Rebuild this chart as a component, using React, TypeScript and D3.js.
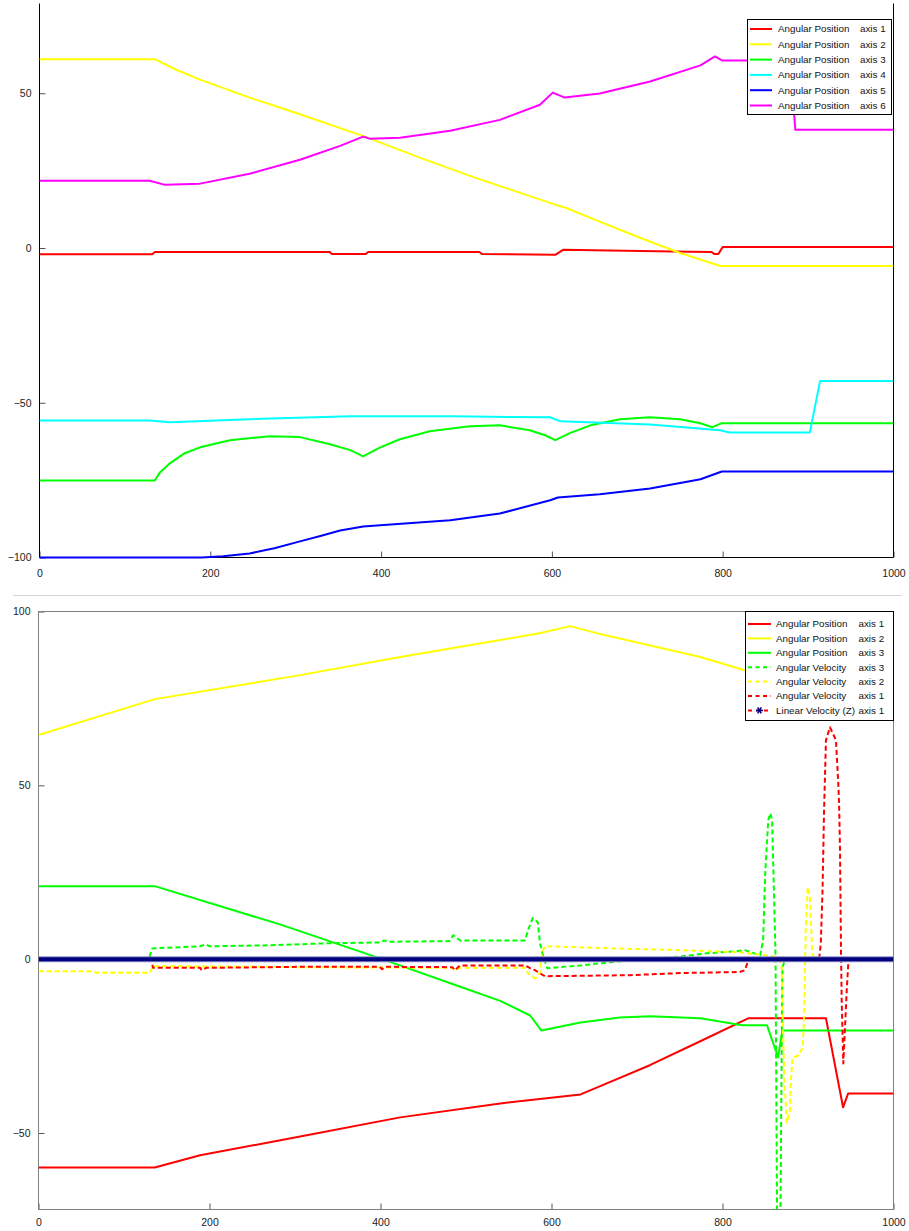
import { useEffect, useRef } from 'react';
import * as d3 from 'd3';

type Pt = [number, number];

const xTicks = [0, 200, 400, 600, 800, 1000];
const topYTicks = [-100, -50, 0, 50];
const botYTicks = [-50, 0, 50, 100];

// upper plot: angular position of axes 1-6
const topAxis1: Pt[] = [[0, -2], [132, -2], [135, -1.3], [340, -1.3], [342, -1.9], [382, -1.9], [385, -1.3], [515, -1.3], [518, -1.9], [604, -2.2], [613, -0.6], [760, -1.2], [787, -1.3], [790, -1.9], [795, -1.9], [800, 0.3], [1000, 0.3]];
const topAxis2: Pt[] = [[0, 61], [135, 61], [160, 57.6], [188, 54.4], [246, 48.6], [305, 43.2], [381, 36], [446, 29.1], [504, 23.3], [563, 17.8], [604, 14], [616, 13], [656, 8.5], [703, 3.3], [750, -1.6], [797, -5.8], [1000, -5.8]];
const topAxis3: Pt[] = [[0, -75.1], [135, -75.1], [141, -72.5], [153, -69.5], [170, -66.3], [188, -64.4], [223, -62.1], [270, -60.8], [305, -61.1], [340, -63.4], [364, -65.3], [379, -67.3], [399, -64.4], [422, -61.8], [457, -59.2], [504, -57.6], [539, -57.3], [574, -58.9], [592, -60.5], [604, -62.1], [621, -59.8], [645, -57.3], [680, -55.3], [715, -54.7], [750, -55.3], [774, -56.6], [788, -57.9], [799, -56.6], [1000, -56.6]];
const topAxis4: Pt[] = [[0, -55.7], [129, -55.7], [153, -56.3], [246, -55.3], [364, -54.4], [481, -54.4], [598, -54.7], [610, -56], [715, -57], [797, -58.9], [808, -59.6], [902, -59.6], [914, -43], [1000, -43]];
const topAxis5: Pt[] = [[0, -100], [190, -100], [215, -99.6], [246, -98.7], [275, -97], [305, -94.8], [330, -93], [352, -91.3], [379, -90], [399, -89.6], [481, -88], [539, -85.8], [598, -81.5], [607, -80.6], [656, -79.6], [715, -77.7], [774, -74.7], [799, -72.2], [1000, -72.2]];
const topAxis6: Pt[] = [[0, 21.7], [129, 21.7], [147, 20.4], [188, 20.8], [246, 24], [305, 28.5], [352, 33], [379, 36], [387, 35.3], [422, 35.6], [481, 37.9], [539, 41.4], [586, 46.3], [601, 50.2], [615, 48.6], [656, 49.9], [715, 53.8], [774, 59], [791, 61.9], [799, 60.6], [879, 60.6], [885, 38.2], [1000, 38.2]];

const topLabels = ['Angular Position', 'Angular Position', 'Angular Position', 'Angular Position', 'Angular Position', 'Angular Position'];
const topAxisNames = ['axis 1', 'axis 2', 'axis 3', 'axis 4', 'axis 5', 'axis 6'];
const topColors = ['#ff0000', '#ffff00', '#00ff00', '#00ffff', '#0000ff', '#ff00ff'];

// lower plot: positions, velocities
const botPos1: Pt[] = [[0, -59.9], [136, -59.9], [189, -56.4], [306, -51], [423, -45.5], [540, -41.5], [634, -38.9], [657, -36.5], [715, -30.5], [774, -23.6], [830, -17], [921, -17], [941, -42.6], [947, -38.6], [1000, -38.6]];
const botPos2: Pt[] = [[0, 64.5], [136, 74.8], [306, 81.7], [423, 86.9], [540, 91.8], [587, 93.8], [622, 95.8], [657, 93.5], [774, 86.9], [826, 83.1], [1000, 77.4]];
const botPos3: Pt[] = [[0, 21], [136, 21], [285, 9.8], [402, 0], [485, -7.2], [540, -12], [575, -16.2], [588, -20.5], [634, -18.2], [680, -16.8], [715, -16.4], [774, -17], [823, -19], [852, -19], [865, -28.2], [870, -20.5], [1000, -20.5]];
const botVel3: Pt[] = [[0, 0], [127, 0], [130, 0.8], [133, 3.1], [189, 3.7], [196, 4.3], [200, 3.7], [271, 4], [341, 4.6], [400, 4.8], [404, 5.4], [408, 5], [481, 5.2], [485, 6.9], [493, 5.4], [569, 5.4], [572.5, 8.3], [578, 11.8], [584, 10.6], [586.5, 4.6], [589, 2], [595, -2.6], [634, -1.8], [680, -0.6], [742, 0.5], [782, 1.7], [817, 2.3], [826, 2.6], [844, 1.1], [847.5, 5.4], [850, 25], [853.5, 40], [856, 42], [858, 40], [859.6, 25], [862, 1.1], [864, -81], [867.5, -81], [870, -2.3], [873.6, 0], [1000, 0]];
const botVel2: Pt[] = [[0, -3.5], [64, -3.5], [68, -3.9], [130, -3.9], [134, -2], [306, -2.3], [484, -2.5], [487, -3.2], [493, -2.5], [569, -2.5], [572.5, -4.1], [581, -5.5], [586.5, -3.8], [589, 2], [592.6, 3.7], [672, 3.1], [750, 2.6], [820, 2], [861.5, 0.8], [869, -1.2], [870.4, -15.6], [872.3, -35], [875.4, -47], [879, -43.5], [880, -35], [882, -28.3], [888.7, -27.7], [893.8, -25.4], [895.7, -15.6], [897.3, 8.3], [899.6, 20.7], [902.3, 17.8], [903.5, 10.4], [905, 1.7], [908, 0], [1000, 0]];
const botVel1: Pt[] = [[0, 0], [128, 0], [131, 0.5], [134, -2.5], [189, -2.5], [191, -3.2], [196, -2.5], [306, -2.2], [399, -2.2], [402, -2.9], [405, -2.2], [484, -2.3], [487, -3.2], [493, -1.8], [569, -1.8], [575, -2.6], [581, -3.2], [586.5, -4.1], [592.6, -4.9], [692, -4.6], [750, -4], [820, -3.7], [826, -3.2], [829, -1.2], [831, 0], [913, 0], [915, 4.6], [917, 19.8], [918.7, 42], [921, 63], [925.7, 66.7], [932.7, 63], [935.4, 50.6], [936.3, 45], [937.4, 32], [938.6, 2], [939.4, -11.8], [941.3, -30], [945.3, -9], [947.1, -1.2], [949, 0], [1000, 0]];
const botLinZ: Pt[] = [[0, 0], [1000, 0]];

const botLabels = ['Angular Position', 'Angular Position', 'Angular Position', 'Angular Velocity', 'Angular Velocity', 'Angular Velocity', 'Linear Velocity (Z)'];
const botAxisNames = ['axis 1', 'axis 2', 'axis 3', 'axis 3', 'axis 2', 'axis 1', 'axis 1'];
const botColors = ['#ff0000', '#ffff00', '#00ff00', '#00ff00', '#ffff00', '#ff0000', '#000080'];
const botDashed = [false, false, false, true, true, true, false];

const FONT = '"Liberation Sans", Arial, sans-serif';

const App = () => {
  const svgRef = useRef<SVGSVGElement>(null);

  useEffect(() => {
    const svg = d3.select(svgRef.current);
    svg.selectAll('*').remove();
    const defs = svg.append('defs');

    const panel = (id: string, series: Pt[][], colors: string[], dashed: boolean[],
      xRange: number[], yDomain: number[], yRange: number[], yTicks: number[], xPad: number,
      frame: string, boxed: boolean, clipPad: number) => {
      const [x0, x1] = xRange;
      const x = d3.scaleLinear().domain([0, 1000]).range(xRange);
      const y = d3.scaleLinear().domain(yDomain).range(yRange);
      const [yb, yt] = yRange;

      defs.append('clipPath').attr('id', id).append('rect')
        .attr('x', x0).attr('y', yt).attr('width', x1 - x0).attr('height', yb - yt + clipPad);

      const g = svg.append('g');

      const ax = g.append('g').attr('transform', `translate(0,${yb})`)
        .call(d3.axisBottom(x).tickValues(xTicks).tickSizeInner(-6).tickSizeOuter(0)
          .tickPadding(xPad).tickFormat(d3.format('d')));
      const ay = g.append('g').attr('transform', `translate(${x0},0)`)
        .call(d3.axisLeft(y).tickValues(yTicks).tickSizeInner(-6).tickSizeOuter(0).tickPadding(8));
      [ax, ay].forEach(a => {
        a.select('.domain').remove();
        a.selectAll('line').attr('stroke', '#555');
        a.selectAll('text').attr('font-family', FONT).attr('font-size', 10.5).attr('fill', '#222');
      });

      if (boxed) {
        g.append('rect').attr('x', x0).attr('y', yt).attr('width', x1 - x0).attr('height', yb - yt)
          .attr('fill', 'none').attr('stroke', frame);
      } else {
        g.append('path').attr('d', `M${x0},${yt}V${yb}H${x1}V${yt}`)
          .attr('fill', 'none').attr('stroke', frame);
      }

      const line = d3.line<Pt>().x(d => x(d[0])).y(d => y(d[1]));
      const plot = g.append('g').attr('clip-path', `url(#${id})`);

      series.forEach((s, i) => {
        if (colors[i] === '#000080') {
          plot.append('path').attr('d', line(s)).attr('fill', 'none')
            .attr('stroke', '#8c8cc8').attr('stroke-width', 6);
          plot.append('path').attr('d', line(s)).attr('fill', 'none')
            .attr('stroke', '#000080').attr('stroke-width', 4);
          return;
        }
        plot.append('path').attr('d', line(s)).attr('fill', 'none')
          .attr('stroke', colors[i]).attr('stroke-width', 2)
          .attr('stroke-linejoin', 'round')
          .attr('stroke-dasharray', dashed[i] ? '5,3' : null);
      });
    };

    const legend = (lx: number, ly: number, w: number, h: number, row0: number, step: number,
      s1: number, s2: number, tx: number, axX: number,
      labels: string[], axes: string[], colors: string[], dashed: boolean[]) => {
      const g = svg.append('g');
      g.append('rect').attr('x', lx).attr('y', ly).attr('width', w).attr('height', h)
        .attr('fill', '#fff').attr('stroke', '#000');
      labels.forEach((lab, i) => {
        const ry = row0 + i * step;
        if (colors[i] === '#000080') {
          g.append('line').attr('x1', s1).attr('x2', s2).attr('y1', ry).attr('y2', ry)
            .attr('stroke', '#ff0000').attr('stroke-width', 2).attr('stroke-dasharray', '4,4');
          const cx = (s1 + s2) / 2;
          [0, 60, 120].forEach(a => {
            const r = (a * Math.PI) / 180;
            g.append('line')
              .attr('x1', cx - 3.5 * Math.cos(r)).attr('y1', ry - 3.5 * Math.sin(r))
              .attr('x2', cx + 3.5 * Math.cos(r)).attr('y2', ry + 3.5 * Math.sin(r))
              .attr('stroke', '#000080').attr('stroke-width', 1.6);
          });
        } else {
          g.append('line').attr('x1', s1).attr('x2', s2).attr('y1', ry).attr('y2', ry)
            .attr('stroke', colors[i]).attr('stroke-width', 2)
            .attr('stroke-dasharray', dashed[i] ? '4,3.5' : null);
        }
        g.append('text').attr('x', tx).attr('y', ry).attr('dy', '0.35em')
          .attr('font-family', FONT).attr('font-size', 9.8).attr('fill', '#111').text(lab);
        g.append('text').attr('x', axX).attr('y', ry).attr('dy', '0.35em')
          .attr('font-family', FONT).attr('font-size', 9.8).attr('fill', '#111').text(axes[i]);
      });
    };

    // upper chart
    panel('clipTop', [topAxis1, topAxis2, topAxis3, topAxis4, topAxis5, topAxis6],
      topColors, topColors.map(() => false), [39.5, 893.5], [-100, 79], [557.5, 3.5], topYTicks, 12,
      '#000', false, 3);
    legend(747.5, 19.5, 144, 95, 29, 15.3, 750, 772, 778, 860,
      topLabels, topAxisNames, topColors, topColors.map(() => false));

    // separator
    svg.append('line').attr('x1', 13).attr('x2', 902).attr('y1', 595.5).attr('y2', 595.5)
      .attr('stroke', '#d4d4d4');

    // lower chart
    panel('clipBot', [botPos1, botPos2, botPos3, botVel3, botVel2, botVel1, botLinZ],
      botColors, botDashed, [38.5, 893.5], [-72, 100], [1209.5, 611.5], botYTicks, 9.5,
      '#808080', true, 0);
    legend(745.5, 611.5, 148, 109, 624, 14.4, 748, 771, 776, 858.5,
      botLabels, botAxisNames, botColors, botDashed);
  }, []);

  return (
    <svg ref={svgRef} width={909} height={1231}
      style={{ position: 'absolute', left: 0, top: 0, background: '#fff' }} />
  );
};

export default App;
